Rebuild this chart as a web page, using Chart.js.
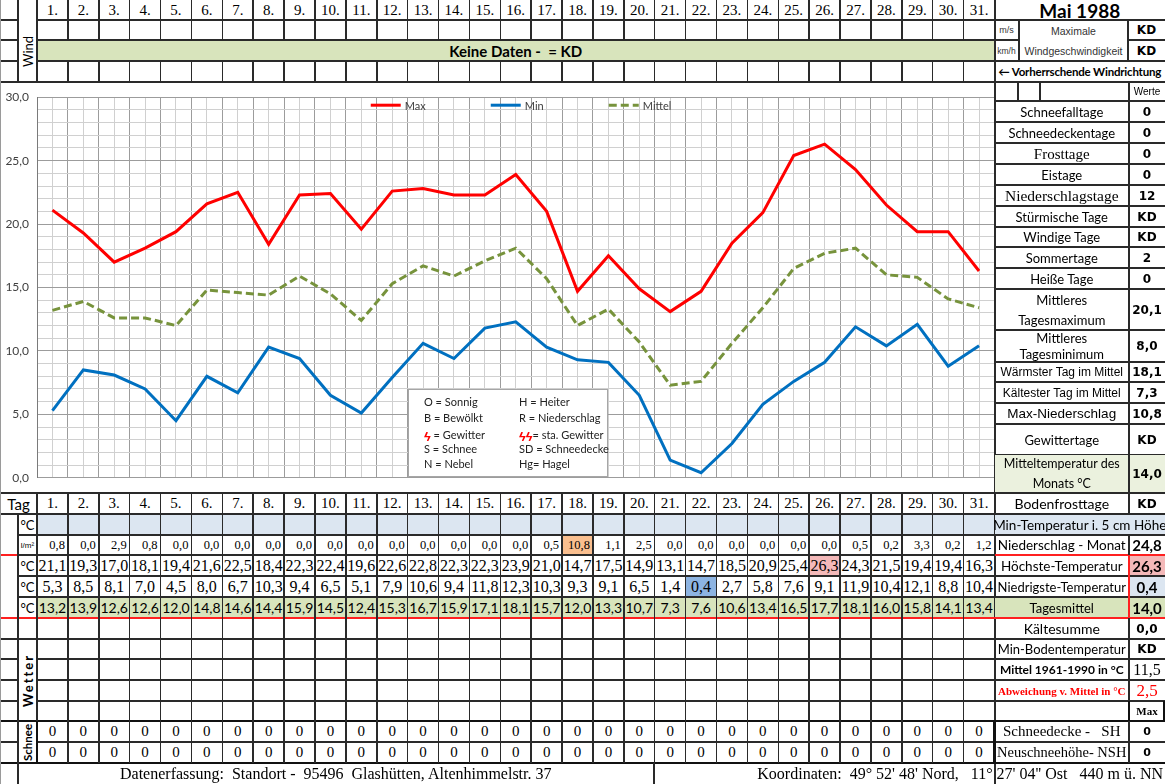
<!DOCTYPE html>
<html><head><meta charset="utf-8">
<script src="https://cdn.jsdelivr.net/npm/chart.js@4.4.0/dist/chart.umd.min.js"></script>
<style>
html,body{margin:0;padding:0;background:#fff;}
#page{position:relative;width:1165px;height:784px;overflow:hidden;background:#fff;}
.c{position:absolute;display:flex;align-items:center;justify-content:center;box-sizing:border-box;white-space:nowrap;color:#000;text-align:center;}
.ln{position:absolute;}
#chartBox{position:absolute;left:0;top:82px;width:995px;height:411px;background:#fff;}
</style></head><body>
<div id="page"><div id="chartBox"><canvas id="chart"></canvas></div></div>
<script>
// ---------------- DATA ----------------
const days = ['1.','2.','3.','4.','5.','6.','7.','8.','9.','10.','11.','12.','13.','14.','15.','16.','17.','18.','19.','20.','21.','22.','23.','24.','25.','26.','27.','28.','29.','30.','31.'];
const maxT  = [21.1,19.3,17.0,18.1,19.4,21.6,22.5,18.4,22.3,22.4,19.6,22.6,22.8,22.3,22.3,23.9,21.0,14.7,17.5,14.9,13.1,14.7,18.5,20.9,25.4,26.3,24.3,21.5,19.4,19.4,16.3];
const minT  = [5.3,8.5,8.1,7.0,4.5,8.0,6.7,10.3,9.4,6.5,5.1,7.9,10.6,9.4,11.8,12.3,10.3,9.3,9.1,6.5,1.4,0.4,2.7,5.8,7.6,9.1,11.9,10.4,12.1,8.8,10.4];
const meanT = [13.2,13.9,12.6,12.6,12.0,14.8,14.6,14.4,15.9,14.5,12.4,15.3,16.7,15.9,17.1,18.1,15.7,12.0,13.3,10.7,7.3,7.6,10.6,13.4,16.5,17.7,18.1,16.0,15.8,14.1,13.4];
const precip = [0.8,0.0,2.9,0.8,0.0,0.0,0.0,0.0,0.0,0.0,0.0,0.0,0.0,0.0,0.0,0.0,0.5,10.8,1.1,2.5,0.0,0.0,0.0,0.0,0.0,0.0,0.5,0.2,3.3,0.2,1.2];
const snowSH  = [0,0,0,0,0,0,0,0,0,0,0,0,0,0,0,0,0,0,0,0,0,0,0,0,0,0,0,0,0,0,0];
const snowNSH = [0,0,0,0,0,0,0,0,0,0,0,0,0,0,0,0,0,0,0,0,0,0,0,0,0,0,0,0,0,0,0];
const yTickValues = [0,5,10,15,20,25,30];
const seriesNames = ['Max','Min','Mittel'];
const title = 'Mai 1988';
const statLabels = ['Schneefalltage','Schneedeckentage','Frosttage','Eistage','Niederschlagstage','Stürmische Tage','Windige Tage','Sommertage','Heiße Tage','Mittleres<br>Tagesmaximum','Mittleres<br>Tagesminimum','Wärmster Tag im Mittel','Kältester Tag im Mittel','Max-Niederschlag','Gewittertage','Mitteltemperatur des<br>Monats °C'];
const statValues = ['0','0','0','0','12','KD','KD','2','0','20,1','8,0','18,1','7,3','10,8','KD','14,0'];
const sumLabels = ['Bodenfrosttage','Min-Temperatur i. 5 cm Höhe','Niederschlag - Monat','Höchste-Temperatur','Niedrigste-Temperatur','Tagesmittel','Kältesumme','Min-Bodentemperatur','Mittel 1961-1990 in °C','Abweichung v. Mittel in °C','','Schneedecke -&nbsp;&nbsp; SH','Neuschneehöhe- NSH'];
const sumValues = ['KD',null,'24,8','26,3','0,4','14,0','0,0','KD','11,5','2,5','Max','0','0'];
const symbolLeft  = ['O = Sonnig','B = Bewölkt','<b style="color:#f00;font-size:13px">ϟ</b> = Gewitter','S = Schnee','N = Nebel'];
const symbolRight = ['H = Heiter','R = Niederschlag','<b style="color:#f00;font-size:13px">ϟϟ</b>= sta. Gewitter','SD = Schneedecke','Hg= Hagel'];

// ---------------- LAYOUT HELPERS ----------------
const SERIF = "'Liberation Serif','Times New Roman',serif";
const CAL = "Lato,'Open Sans',sans-serif";
const ARIAL = "'Liberation Sans',Arial,sans-serif";
const DV = "'DejaVu Sans',Verdana,sans-serif";
const page = document.getElementById('page');
const X0 = 37, XE = 994.5, CW = (XE - X0) / 31, RIGHT = 1165, VX = 1129;
const cx = i => X0 + i * CW;
const fmt = v => v.toFixed(1).replace('.', ',');
function cell(x, y, w, h, html, st) {
  const d = document.createElement('div');
  d.className = 'c';
  Object.assign(d.style, {left: x + 'px', top: y + 'px', width: w + 'px', height: h + 'px'}, st || {});
  if (html !== undefined && html !== null) d.innerHTML = html;
  page.appendChild(d); return d;
}
const LC = '#2a2a2a';
function hl(x1, x2, y, color, t) {
  t = t || 1.5;
  const d = document.createElement('div'); d.className = 'ln';
  Object.assign(d.style, {left: x1 + 'px', top: (y - t / 2) + 'px', width: (x2 - x1) + 'px', height: t + 'px', background: color || LC});
  page.appendChild(d);
}
function vl(x, y1, y2, color, t) {
  t = t || 1.5;
  const d = document.createElement('div'); d.className = 'ln';
  Object.assign(d.style, {left: (x - t / 2) + 'px', top: y1 + 'px', width: t + 'px', height: (y2 - y1) + 'px', background: color || LC});
  page.appendChild(d);
}

// ---------------- TOP SECTION ----------------
days.forEach((d, i) => cell(cx(i), 0, CW, 20, d, {font: `15px ${SERIF}`}));
cell(X0, 40, XE - X0, 21, 'Keine Daten -&nbsp; = KD', {background: '#d8e4bc', font: `bold 15px ${CAL}`});
cell(18, 20, 19, 62, 'Wind', {writingMode: 'vertical-rl', transform: 'rotate(180deg)', font: `13px ${CAL}`});
[20, 40, 61].forEach(y => { hl(X0, XE, y); hl(0, 18, y); });
for (let i = 1; i < 31; i++) { vl(cx(i), 0, 40); vl(cx(i), 61, 82); }
vl(18, 0, 82); vl(X0, 0, 82);
// right top panel
cell(XE, 0, RIGHT - XE, 20, title, {font: `bold 19px ${CAL}`});
hl(XE, RIGHT, 20);
cell(XE, 20, 24, 20, 'm/s', {font: `9px ${ARIAL}`, color: '#333'});
cell(XE, 40, 24, 21, 'km/h', {font: `8.5px ${ARIAL}`, color: '#333'});
cell(1019, 20, 109, 41, 'Maximale<br>Windgeschwindigkeit', {font: `10.5px ${ARIAL}`, lineHeight: '20px', color: '#333', whiteSpace: 'normal'});
cell(1128, 20, 37, 20, 'KD', {font: `bold 12px ${DV}`});
cell(1128, 40, 37, 21, 'KD', {font: `bold 12px ${DV}`});
hl(XE, 1019, 40); hl(1128, RIGHT, 40);
vl(1019, 20, 61); vl(1128, 20, 61);
hl(XE, RIGHT, 61);
cell(XE, 61, RIGHT - XE, 21, '← Vorherrschende Windrichtung', {font: `bold 11.5px ${CAL}`, letterSpacing: '-0.2px'});
hl(0, RIGHT, 82, LC, 2);
vl(XE, 0, 784, LC, 2);

// ---------------- RIGHT PANEL (chart section) ----------------
const statEdges = [101,122,143,164,185,206,227,247,268,289,330,362,382,403,424,455,493];
const statFonts = [`13px ${CAL}`,`13px ${CAL}`,`15px ${SERIF}`,`13px ${CAL}`,`15.5px ${SERIF}`,`13px ${CAL}`,`13px ${CAL}`,`13px ${CAL}`,`13px ${CAL}`,`13px ${CAL}`,`13px ${CAL}`,`12px ${ARIAL}`,`12px ${ARIAL}`,`13.5px ${ARIAL}`,`13px ${CAL}`,`12.5px ${CAL}`];
const statLineH = [20,20,20,20,20,20,20,20,20,20,16,20,20,20,20,20];
vl(1018, 82, 101); vl(1040, 82, 101);
cell(VX, 82, RIGHT - VX, 19, 'Werte', {font: `10px ${ARIAL}`});
hl(XE, RIGHT, 101);
statLabels.forEach((lab, i) => {
  const y = statEdges[i], h = statEdges[i + 1] - y;
  const bg = i === statLabels.length - 1 ? '#ebf1de' : 'transparent';
  cell(XE, y, VX - XE, h, lab, {font: statFonts[i], lineHeight: statLineH[i] + 'px', background: bg});
  cell(VX, y, RIGHT - VX, h, statValues[i], {font: `bold 12px ${DV}`, background: bg});
  hl(XE, RIGHT, statEdges[i + 1]);
});
vl(VX, 82, 493);

// ---------------- BOTTOM SECTION ----------------
const BR = [493,514,535,555,576,597,618,639,659,680,701,721,742,763,784];
const rowH = i => BR[i + 1] - BR[i];
cell(0, BR[0], X0, rowH(0), 'Tag', {font: `15px ${CAL}`});
days.forEach((d, i) => cell(cx(i), BR[0], CW, rowH(0), d, {font: `15px ${SERIF}`}));
const pMax = Math.max(...precip), tMax = Math.max(...maxT), tMin = Math.min(...minT);
for (let i = 0; i < 31; i++) {
  cell(cx(i), BR[1], CW, rowH(1), '', {background: '#dce6f1'});
  cell(cx(i), BR[2], CW, rowH(2), fmt(precip[i]), {font: `12.5px ${SERIF}`, justifyContent: 'flex-end', paddingRight: '3px', background: precip[i] === pMax ? '#fabf8f' : 'transparent'});
  cell(cx(i), BR[3], CW, rowH(3), fmt(maxT[i]), {font: `16px ${SERIF}`, background: maxT[i] === tMax ? '#f4b9b9' : 'transparent'});
  cell(cx(i), BR[4], CW, rowH(4), fmt(minT[i]), {font: `16px ${SERIF}`, background: minT[i] === tMin ? '#8db4e2' : 'transparent'});
  cell(cx(i), BR[5], CW, rowH(5), fmt(meanT[i]), {font: `14px ${CAL}`, background: '#d8e4bc'});
  cell(cx(i), BR[11], CW, rowH(11), String(snowSH[i]), {font: `15px ${SERIF}`});
  cell(cx(i), BR[12], CW, rowH(12), String(snowNSH[i]), {font: `15px ${SERIF}`});
}
const units = ['°C', 'l/m²', '°C', '°C', '°C'];
units.forEach((u, k) => cell(18, BR[k + 1], 19, rowH(k + 1), u, {font: k === 1 ? `8px ${ARIAL}` : `13px ${CAL}`}));
cell(18, BR[7], 19, BR[11] - BR[7], 'Wetter', {writingMode: 'vertical-rl', transform: 'rotate(180deg)', font: `bold 13px ${CAL}`, letterSpacing: '2px'});
cell(18, BR[11], 19, BR[13] - BR[11], 'Schnee', {writingMode: 'vertical-rl', transform: 'rotate(180deg)', font: `bold 11.5px ${CAL}`});

// right bottom panel
const sumBgL = [null, '#dce6f1', null, null, null, '#d8e4bc'];
const sumBgV = [null, null, null, '#f4b9b9', '#dce6f1', '#d8e4bc'];
const sumFontL = [`14px ${CAL}`,`13.5px ${CAL}`,`13.5px ${CAL}`,`13.5px ${CAL}`,`13px ${CAL}`,`13px ${CAL}`,`14px ${CAL}`,`13px ${CAL}`,`bold 12px ${CAL}`,`bold 11px ${SERIF}`,``,`15px ${SERIF}`,`14.5px ${SERIF}`];
const sumFontV = [`bold 12px ${DV}`,'',`bold 15px ${CAL}`,`bold 15px ${CAL}`,`bold 15px ${CAL}`,`bold 15px ${CAL}`,`bold 12px ${DV}`,`bold 12px ${DV}`,`16px ${SERIF}`,`17px ${SERIF}`,`bold 11px ${SERIF}`,`bold 11px ${DV}`,`bold 11px ${DV}`];
sumLabels.forEach((lab, k) => {
  const y = BR[k], h = rowH(k);
  if (sumValues[k] === null) {
    cell(XE, y, RIGHT - XE, h, lab, {font: sumFontL[k], background: sumBgL[k] || 'transparent'});
  } else {
    cell(XE, y, VX - XE, h, lab, {font: sumFontL[k], background: sumBgL[k] || 'transparent', color: k === 9 ? '#ff0000' : '#000'});
    cell(VX, y, RIGHT - VX, h, sumValues[k], {font: sumFontV[k], background: sumBgV[k] || 'transparent', color: k === 9 ? '#ff0000' : '#000'});
  }
});

// bottom lines
hl(0, RIGHT, BR[0], LC, 2);
hl(0, RIGHT, BR[1]);
[2, 4, 5].forEach(k => hl(18, RIGHT, BR[k]));
hl(18, XE, BR[3]); hl(0, 18, BR[3], '#ff2020'); hl(XE, RIGHT, BR[3], '#ff2020');
hl(0, RIGHT, BR[6], '#ff2020', 2);
hl(0, RIGHT, BR[7]);
[8, 9, 10].forEach(k => { hl(0, 18, BR[k]); hl(X0, RIGHT, BR[k]); });
hl(0, RIGHT, BR[11], '#111', 2.5);
hl(0, 18, BR[12]); hl(X0, RIGHT, BR[12]);
hl(0, RIGHT, BR[13], '#111', 2.5);
vl(18, BR[1], 784);
vl(X0, BR[0], BR[13]);
for (let i = 1; i < 31; i++) vl(cx(i), BR[0], BR[13]);
vl(VX, BR[0], BR[1]); vl(VX, BR[2], BR[13]);
vl(VX, BR[3], BR[6], '#ff2020');
vl(VX, BR[10], BR[11], '#111', 2.5); vl(RIGHT - 1, BR[10], BR[11], '#111', 2.5);
vl(X0, BR[11], BR[13], '#111', 2.5);
vl(XE, BR[11], BR[13], '#111', 2.5);
// footer
vl(654, BR[13], 784);
cell(120, BR[13], 530, rowH(13), 'Datenerfassung:&nbsp; Standort -&nbsp; 95496&nbsp; Glashütten, Altenhimmelstr. 37', {font: `16px ${SERIF}`, justifyContent: 'flex-start'});
cell(654, BR[13], 509, rowH(13), 'Koordinaten:&nbsp; 49° 52\' 48\' Nord,&nbsp;&nbsp; 11° 27\' 04\'\' Ost&nbsp;&nbsp; 440 m ü. NN', {font: `16px ${SERIF}`, justifyContent: 'flex-end'});
vl(0.5, 0, 784, '#9a9a9a', 1);

// symbol key box over chart
const key = cell(408, 389, 200, 88, '', {border: '1px solid #a6a6a6', background: '#fff', display: 'block'});
symbolLeft.forEach((t, r) => {
  const a = document.createElement('div');
  Object.assign(a.style, {position: 'absolute', left: '15px', top: (5 + r * 15.5) + 'px', height: '15px', lineHeight: '15px', font: `11px ${CAL}`, color: '#222', whiteSpace: 'nowrap'});
  a.innerHTML = t; key.appendChild(a);
  const b = document.createElement('div');
  Object.assign(b.style, {position: 'absolute', left: '110px', top: (5 + r * 15.5) + 'px', height: '15px', lineHeight: '15px', font: `11px ${CAL}`, color: '#222', whiteSpace: 'nowrap'});
  b.innerHTML = symbolRight[r]; key.appendChild(b);
});

// ---------------- CHART ----------------
const lineColors = ['#ff0000', '#0070c0', '#77933c'];
const legendOffsets = [-145, -25, 93];   // legend entry starts relative to plot centre
const inlineLegend = {
  id: 'inlineLegend',
  afterDatasetsDraw(chart) {
    const {ctx, chartArea} = chart;
    const mid = (chartArea.left + chartArea.right) / 2;
    const y = chartArea.top + 8;
    chart.data.datasets.forEach((ds, i) => {
      const x = mid + legendOffsets[i];
      ctx.save();
      ctx.strokeStyle = ds.borderColor; ctx.lineWidth = ds.borderWidth;
      ctx.setLineDash(ds.borderDash || []);
      ctx.beginPath(); ctx.moveTo(x, y); ctx.lineTo(x + 30, y); ctx.stroke();
      ctx.setLineDash([]);
      ctx.fillStyle = '#404040'; ctx.font = '11px Lato'; ctx.textBaseline = 'middle'; ctx.textAlign = 'left';
      ctx.fillText(ds.label, x + 34, y + 1);
      ctx.restore();
    });
  }
};
new Chart(document.getElementById('chart'), {
  type: 'line',
  data: {
    labels: days,
    datasets: [
      {label: seriesNames[0], data: maxT, borderColor: lineColors[0], backgroundColor: lineColors[0], borderWidth: 3, pointRadius: 0, tension: 0},
      {label: seriesNames[1], data: minT, borderColor: lineColors[1], backgroundColor: lineColors[1], borderWidth: 3, pointRadius: 0, tension: 0},
      {label: seriesNames[2], data: meanT, borderColor: lineColors[2], backgroundColor: lineColors[2], borderWidth: 3, borderDash: [8, 4], pointRadius: 0, tension: 0}
    ]
  },
  plugins: [inlineLegend],
  options: {
    responsive: true, maintainAspectRatio: false, animation: false, devicePixelRatio: 1,
    layout: {padding: {top: 10, bottom: 8, left: 0, right: 0.5}},
    plugins: {
      tooltip: {enabled: false},
      legend: {display: false}
    },
    scales: {
      x: {type: 'category', offset: true, grid: {offset: true, color: '#9c9c9c', drawTicks: false}, ticks: {display: false}, border: {color: '#9c9c9c'}, afterFit: s => { s.height = 0; }},
      x2: {type: 'category', labels: days, position: 'bottom', offset: true, grid: {offset: false, color: '#d0d0d0', drawTicks: false}, ticks: {display: false}, border: {display: false}, afterFit: s => { s.height = 0; }},
      y: {
        min: 0, max: 30,
        ticks: {stepSize: 1, autoSkip: false, padding: 8, color: '#404040', font: {family: 'Lato', size: 12},
          callback: v => yTickValues.includes(v) ? fmt(v) : ''},
        grid: {color: c => (c.tick && yTickValues.includes(c.tick.value)) ? '#9c9c9c' : '#d0d0d0', drawTicks: false},
        border: {color: '#7a7a7a'},
        afterFit: s => { s.width = 37; }
      }
    }
  }
});
</script>
</body></html>
